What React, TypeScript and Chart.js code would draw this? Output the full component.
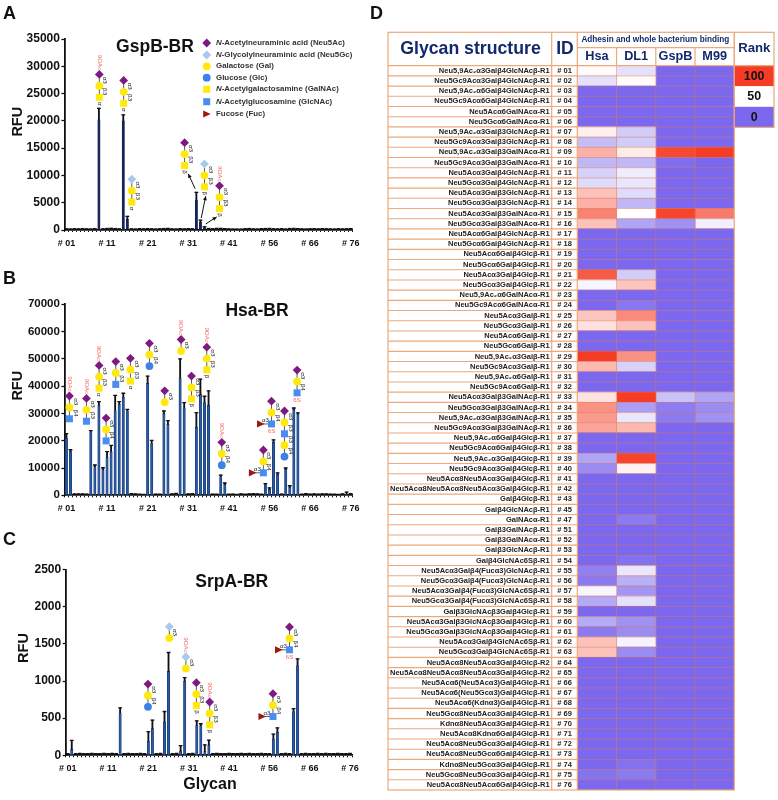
import { useEffect, useRef } from "react";
import { Chart, registerables } from "chart.js";

Chart.register(...registerables);

const FONT = '"Liberation Sans", Arial, sans-serif';

const glycanIds = [
  "# 01", "# 02", "# 03", "# 04", "# 05", "# 06", "# 07", "# 08", "# 09", "# 10",
  "# 11", "# 12", "# 13", "# 14", "# 15", "# 16", "# 17", "# 18", "# 19", "# 20",
  "# 21", "# 22", "# 23", "# 24", "# 25", "# 26", "# 27", "# 28", "# 29", "# 30",
  "# 31", "# 32", "# 33", "# 34", "# 35", "# 36", "# 37", "# 38", "# 39", "# 40",
  "# 41", "# 42", "# 43", "# 45", "# 47", "# 51", "# 52", "# 53", "# 54", "# 55",
  "# 56", "# 57", "# 58", "# 59", "# 60", "# 61", "# 62", "# 63", "# 64", "# 65",
  "# 66", "# 67", "# 68", "# 69", "# 70", "# 71", "# 72", "# 73", "# 74", "# 75",
  "# 76",
];

const glycanNames = [
  "Neu5,9Ac₂α3Galβ4GlcNAcβ-R1", "Neu5Gc9Acα3Galβ4GlcNAcβ-R1", "Neu5,9Ac₂α6Galβ4GlcNAcβ-R1",
  "Neu5Gc9Acα6Galβ4GlcNAcβ-R1", "Neu5Acα6GalNAcα-R1", "Neu5Gcα6GalNAcα-R1",
  "Neu5,9Ac₂α3Galβ3GlcNAcβ-R1", "Neu5Gc9Acα3Galβ3GlcNAcβ-R1", "Neu5,9Ac₂α3Galβ3GalNAcα-R1",
  "Neu5Gc9Acα3Galβ3GalNAcα-R1", "Neu5Acα3Galβ4GlcNAcβ-R1", "Neu5Gcα3Galβ4GlcNAcβ-R1",
  "Neu5Acα3Galβ3GlcNAcβ-R1", "Neu5Gcα3Galβ3GlcNAcβ-R1", "Neu5Acα3Galβ3GalNAcα-R1",
  "Neu5Gcα3Galβ3GalNAcα-R1", "Neu5Acα6Galβ4GlcNAcβ-R1", "Neu5Gcα6Galβ4GlcNAcβ-R1",
  "Neu5Acα6Galβ4Glcβ-R1", "Neu5Gcα6Galβ4Glcβ-R1", "Neu5Acα3Galβ4Glcβ-R1",
  "Neu5Gcα3Galβ4Glcβ-R1", "Neu5,9Ac₂α6GalNAcα-R1", "Neu5Gc9Acα6GalNAcα-R1",
  "Neu5Acα3Galβ-R1", "Neu5Gcα3Galβ-R1", "Neu5Acα6Galβ-R1", "Neu5Gcα6Galβ-R1",
  "Neu5,9Ac₂α3Galβ-R1", "Neu5Gc9Acα3Galβ-R1", "Neu5,9Ac₂α6Galβ-R1", "Neu5Gc9Acα6Galβ-R1",
  "Neu5Acα3Galβ3GalNAcβ-R1", "Neu5Gcα3Galβ3GalNAcβ-R1", "Neu5,9Ac₂α3Galβ3GalNAcβ-R1",
  "Neu5Gc9Acα3Galβ3GalNAcβ-R1", "Neu5,9Ac₂α6Galβ4Glcβ-R1", "Neu5Gc9Acα6Galβ4Glcβ-R1",
  "Neu5,9Ac₂α3Galβ4Glcβ-R1", "Neu5Gc9Acα3Galβ4Glcβ-R1", "Neu5Acα8Neu5Acα3Galβ4Glcβ-R1",
  "Neu5Acα8Neu5Acα8Neu5Acα3Galβ4Glcβ-R1", "Galβ4Glcβ-R1", "Galβ4GlcNAcβ-R1", "GalNAcα-R1",
  "Galβ3GalNAcβ-R1", "Galβ3GalNAcα-R1", "Galβ3GlcNAcβ-R1", "Galβ4GlcNAc6Sβ-R1",
  "Neu5Acα3Galβ4(Fucα3)GlcNAcβ-R1", "Neu5Gcα3Galβ4(Fucα3)GlcNAcβ-R1",
  "Neu5Acα3Galβ4(Fucα3)GlcNAc6Sβ-R1", "Neu5Gcα3Galβ4(Fucα3)GlcNAc6Sβ-R1",
  "Galβ3GlcNAcβ3Galβ4Glcβ-R1", "Neu5Acα3Galβ3GlcNAcβ3Galβ4Glcβ-R1",
  "Neu5Gcα3Galβ3GlcNAcβ3Galβ4Glcβ-R1", "Neu5Acα3Galβ4GlcNAc6Sβ-R1", "Neu5Gcα3Galβ4GlcNAc6Sβ-R1",
  "Neu5Acα8Neu5Acα3Galβ4Glcβ-R2", "Neu5Acα8Neu5Acα8Neu5Acα3Galβ4Glcβ-R2",
  "Neu5Acα6(Neu5Acα3)Galβ4Glcβ-R1", "Neu5Acα6(Neu5Gcα3)Galβ4Glcβ-R1",
  "Neu5Acα6(Kdnα3)Galβ4Glcβ-R1", "Neu5Gcα8Neu5Acα3Galβ4Glcβ-R1", "Kdnα8Neu5Acα3Galβ4Glcβ-R1",
  "Neu5Acα8Kdnα6Galβ4Glcβ-R1", "Neu5Acα8Neu5Gcα3Galβ4Glcβ-R1", "Neu5Acα8Neu5Gcα6Galβ4Glcβ-R1",
  "Kdnα8Neu5Gcα3Galβ4Glcβ-R1", "Neu5Gcα8Neu5Gcα3Galβ4Glcβ-R1", "Neu5Acα8Neu5Acα6Galβ4Glcβ-R1",
];

// bar heights and error lengths, RFU
const gspbMean = [
  100, 90, 110, 100, 120, 100, 90, 110, 20200, 100,
  150, 160, 140, 110, 20000, 2000, 100, 90, 120, 100,
  130, 100, 90, 110, 130, 140, 100, 90, 120, 100,
  130, 110, 5500, 1400, 400, 150, 110, 160, 150, 130,
  100, 90, 80, 70, 120, 140, 100, 90, 130, 140,
  150, 110, 100, 120, 90, 140, 150, 130, 100, 90,
  110, 120, 100, 130, 110, 100, 90, 120, 100, 110,
  130,
];
const gspbErr = [
  120, 100, 130, 110, 140, 110, 100, 120, 2100, 110,
  130, 150, 120, 100, 1100, 500, 110, 90, 120, 100,
  120, 110, 90, 110, 130, 150, 100, 90, 120, 100,
  120, 110, 1400, 400, 200, 130, 120, 140, 150, 120,
  100, 90, 90, 80, 110, 130, 100, 90, 120, 130,
  140, 110, 100, 120, 90, 130, 140, 120, 100, 90,
  110, 120, 100, 120, 110, 100, 90, 110, 100, 110,
  120,
];
const hsaMean = [
  21000, 16000, 200, 250, 200, 180, 23000, 10500, 33000, 9500,
  14000, 16000, 31000, 33500, 36000, 31000, 300, 250, 200, 150,
  41000, 19000, 200, 180, 30000, 26000, 250, 400, 43000, 32000,
  250, 300, 25000, 37000, 34000, 33000, 200, 180, 6800, 4000,
  200, 180, 150, 200, 150, 200, 300, 250, 200, 3800,
  2200, 19500, 7700, 200, 9500, 3000, 31500, 29800, 200, 300,
  200, 250, 180, 200, 250, 200, 180, 150, 200, 400,
  300,
];
const hsaErr = [
  1600, 700, 300, 250, 300, 250, 700, 600, 1300, 600,
  2000, 2300, 5600, 800, 1400, 500, 300, 250, 200, 200,
  2700, 1100, 250, 200, 900, 1400, 300, 300, 7000, 2000,
  300, 300, 5300, 5600, 2300, 5300, 250, 200, 600, 500,
  200, 250, 200, 300, 250, 300, 300, 250, 200, 500,
  500, 800, 500, 250, 500, 500, 500, 400, 200, 300,
  250, 300, 250, 300, 300, 250, 200, 200, 300, 800,
  300,
];
const srpaMean = [
  5, 80, 5, 4, 6, 5, 4, 5, 6, 4,
  5, 4, 6, 570, 5, 4, 6, 5, 4, 5,
  190, 360, 5, 4, 450, 1130, 5, 4, 60, 1000,
  5, 4, 400, 400, 50, 140, 5, 4, 6, 5,
  4, 5, 6, 4, 5, 4, 6, 5, 4, 5,
  6, 220, 310, 5, 4, 6, 590, 1210, 5, 4,
  5, 6, 4, 5, 4, 6, 5, 4, 5, 6,
  4,
];
const srpaErr = [
  18, 120, 18, 20, 16, 18, 20, 18, 16, 20,
  18, 20, 16, 70, 18, 20, 16, 18, 20, 18,
  130, 115, 18, 20, 140, 255, 18, 20, 70, 45,
  18, 20, 65, 25, 90, 65, 18, 20, 16, 18,
  20, 18, 16, 20, 18, 20, 16, 18, 20, 18,
  16, 65, 60, 18, 20, 16, 40, 90, 18, 20,
  18, 16, 20, 18, 20, 16, 18, 20, 18, 16,
  20,
];

// heat map ranks, one list per column
const heatColumns = ["Hsa", "DL1", "GspB", "M99"];
const rankHsa = [
  51, 40, 0, 0, 0, 0, 54, 28, 70, 26,
  35, 38, 66, 70, 82, 66, 0, 0, 0, 0,
  92, 47, 0, 0, 65, 58, 0, 0, 100, 68,
  0, 0, 57, 78, 76, 73, 0, 0, 20, 12,
  0, 0, 0, 0, 0, 0, 0, 0, 0, 8,
  6, 47, 22, 0, 22, 6, 66, 66, 0, 0,
  0, 0, 0, 0, 0, 0, 0, 0, 0, 4,
  0,
];
const rankDl1 = [
  40, 51, 0, 0, 0, 0, 33, 33, 55, 26,
  44, 42, 38, 26, 50, 20, 0, 0, 0, 0,
  33, 65, 0, 5, 80, 66, 0, 0, 78, 35,
  0, 0, 100, 18, 42, 68, 0, 0, 98, 53,
  0, 0, 0, 0, 6, 0, 0, 0, 3, 42,
  24, 15, 40, 0, 14, 12, 46, 12, 0, 0,
  0, 0, 0, 0, 0, 0, 0, 0, 3, 6,
  0,
];
const rankGspb = [
  0, 0, 0, 0, 0, 0, 0, 0, 97, 2,
  0, 0, 0, 0, 98, 14, 0, 0, 0, 0,
  0, 0, 0, 0, 0, 0, 0, 0, 0, 0,
  0, 0, 30, 7, 6, 0, 0, 0, 0, 0,
  0, 0, 0, 0, 0, 0, 0, 0, 0, 0,
  0, 0, 0, 0, 0, 0, 0, 0, 0, 0,
  0, 0, 0, 0, 0, 0, 0, 0, 0, 0,
  0,
];
const rankM99 = [
  0, 0, 0, 0, 0, 0, 0, 0, 100, 0,
  0, 0, 0, 0, 84, 45, 0, 0, 0, 0,
  0, 0, 0, 0, 0, 0, 0, 0, 0, 0,
  0, 0, 20, 12, 14, 0, 0, 0, 0, 0,
  0, 0, 0, 0, 0, 0, 0, 0, 0, 0,
  0, 0, 0, 0, 0, 0, 0, 0, 0, 0,
  0, 0, 0, 0, 0, 0, 0, 0, 0, 0,
  0,
];
const rankLevels = [100, 50, 0];

const residueLegend = [
  ["Neu5Ac", "N", "-Acetylneuraminic acid (Neu5Ac)"],
  ["Neu5Gc", "N", "-Glycolylneuraminic acid (Neu5Gc)"],
  ["Gal", "", "Galactose (Gal)"],
  ["Glc", "", "Glucose (Glc)"],
  ["GalNAc", "N", "-Acetylgalactosamine (GalNAc)"],
  ["GlcNAc", "N", "-Acetylglucosamine (GlcNAc)"],
  ["Fuc", "", "Fucose (Fuc)"],
];

// x = position along the category axis, y = RFU of the topmost residue
const gspbGlycans = [
  { x: 8.1, y: 28500, chain: ["Neu5Ac", "Gal", "GalNAc"], links: ["α3", "β3"], end: "α", note: "9OAc" },
  { x: 14.1, y: 27400, chain: ["Neu5Ac", "Gal", "GalNAc"], links: ["α3", "β3"], end: "α" },
  { x: 16.1, y: 9300, chain: ["Neu5Gc", "Gal", "GalNAc"], links: ["α3", "β3"], end: "α" },
  { x: 29.1, y: 16000, chain: ["Neu5Ac", "Gal", "GalNAc"], links: ["α3", "β3"], end: "β" },
  { x: 34, y: 12100, chain: ["Neu5Gc", "Gal", "GalNAc"], links: ["α3", "β3"], end: "β" },
  { x: 37.7, y: 8100, chain: ["Neu5Ac", "Gal", "GalNAc"], links: ["α3", "β3"], end: "β", note: "9OAc" },
];
const gspbArrows = [
  [31.7, 7560, 30, 10300],
  [33.2, 2200, 34.3, 6200],
  [34.3, 1100, 37, 2400],
];
const hsaGlycans = [
  { x: 0.74, y: 36400, chain: ["Neu5Ac", "Gal", "GlcNAc"], links: ["α3", "β4"], note: "9OAc" },
  { x: 4.93, y: 35500, chain: ["Neu5Ac", "Gal", "GlcNAc"], links: ["α3", "β3"], note: "9OAc" },
  { x: 8.05, y: 47600, chain: ["Neu5Ac", "Gal", "GalNAc"], links: ["α3", "β3"], end: "α", note: "9OAc" },
  { x: 9.77, y: 28300, chain: ["Neu5Ac", "Gal", "GlcNAc"], links: ["α3", "β4"] },
  { x: 12.15, y: 49000, chain: ["Neu5Ac", "Gal", "GlcNAc"], links: ["α3", "β3"] },
  { x: 15.76, y: 50200, chain: ["Neu5Ac", "Gal", "GalNAc"], links: ["α3", "β3"], end: "α" },
  { x: 20.44, y: 55700, chain: ["Neu5Ac", "Gal", "Glc"], links: ["α3", "β4"] },
  { x: 24.2, y: 38300, chain: ["Neu5Ac", "Gal"], links: ["α3"] },
  { x: 28.24, y: 57100, chain: ["Neu5Ac", "Gal"], links: ["α3"], note: "9OAc" },
  { x: 30.8, y: 43700, chain: ["Neu5Ac", "Gal", "GalNAc"], links: ["α3", "β3"], end: "β" },
  { x: 34.56, y: 54300, chain: ["Neu5Ac", "Gal", "GalNAc"], links: ["α3", "β3"], end: "β", note: "9OAc" },
  { x: 38.26, y: 19400, chain: ["Neu5Ac", "Gal", "Glc"], links: ["α3", "β4"], note: "9OAc" },
  { x: 48.5, y: 16600, chain: ["Neu5Ac", "Gal", "GlcNAc"], links: ["α3", "β4"], fuc: true },
  { x: 50.5, y: 34500, chain: ["Neu5Ac", "Gal", "GlcNAc"], links: ["α3", "β4"], fuc: true, sulfate: true },
  { x: 53.7, y: 30900, chain: ["Neu5Ac", "Gal", "GlcNAc", "Gal", "Glc"], links: ["α3", "β3", "β3", "β4"] },
  { x: 56.8, y: 45900, chain: ["Neu5Ac", "Gal", "GlcNAc"], links: ["α3", "β4"], sulfate: true },
];
const srpaGlycans = [
  { x: 19.9, y: 960, chain: ["Neu5Ac", "Gal", "Glc"], links: ["α3", "β4"] },
  { x: 25.2, y: 1732, chain: ["Neu5Gc", "Gal"], links: ["α3"] },
  { x: 29.3, y: 1324, chain: ["Neu5Gc", "Gal"], links: ["α3"], note: "9OAc" },
  { x: 31.9, y: 978, chain: ["Neu5Ac", "Gal", "GalNAc"], links: ["α3", "β3"], end: "β" },
  { x: 35.2, y: 718, chain: ["Neu5Ac", "Gal", "GalNAc"], links: ["α3", "β3"], end: "β", note: "9OAc" },
  { x: 50.9, y: 830, chain: ["Neu5Ac", "Gal", "GlcNAc"], links: ["α3", "β4"], fuc: true },
  { x: 55, y: 1728, chain: ["Neu5Ac", "Gal", "GlcNAc"], links: ["α3", "β4"], fuc: true, sulfate: true },
];

const RESIDUE_COLORS: Record<string, string> = {
  Neu5Ac: "#7c1a80",
  Neu5Gc: "#a9c8ea",
  Gal: "#ffe90a",
  Glc: "#3f7fe8",
  GalNAc: "#ffe90a",
  GlcNAc: "#4a8cf0",
  Fuc: "#9a1a12",
};

function drawResidue(ctx: CanvasRenderingContext2D, kind: string, x: number, y: number) {
  ctx.fillStyle = RESIDUE_COLORS[kind];
  ctx.beginPath();
  if (kind === "Neu5Ac" || kind === "Neu5Gc") {
    ctx.moveTo(x, y - 4.4);
    ctx.lineTo(x + 4.4, y);
    ctx.lineTo(x, y + 4.4);
    ctx.lineTo(x - 4.4, y);
    ctx.closePath();
  } else if (kind === "Gal" || kind === "Glc") {
    ctx.arc(x, y, 3.9, 0, Math.PI * 2);
  } else if (kind === "GalNAc" || kind === "GlcNAc") {
    ctx.rect(x - 3.5, y - 3.5, 7, 7);
  } else {
    ctx.moveTo(x + 4, y);
    ctx.lineTo(x - 3.5, y - 3.6);
    ctx.lineTo(x - 3.5, y + 3.6);
    ctx.closePath();
  }
  ctx.fill();
}

function rotatedText(ctx: CanvasRenderingContext2D, text: string, x: number, y: number, angle: number) {
  ctx.save();
  ctx.translate(x, y);
  ctx.rotate(angle);
  ctx.textAlign = "center";
  ctx.textBaseline = "middle";
  ctx.fillText(text, 0, 0);
  ctx.restore();
}

const STEP = 11.4;

function drawGlycan(ctx: CanvasRenderingContext2D, g: any, px: number, py: number) {
  const bottom = py + STEP * (g.chain.length - 1);
  ctx.strokeStyle = "#333";
  ctx.lineWidth = 0.8;
  ctx.beginPath();
  ctx.moveTo(px, py);
  ctx.lineTo(px, bottom);
  ctx.stroke();
  if (g.fuc) {
    ctx.beginPath();
    ctx.moveTo(px - 10, bottom);
    ctx.lineTo(px, bottom);
    ctx.stroke();
    drawResidue(ctx, "Fuc", px - 11, bottom);
    ctx.fillStyle = "#222";
    ctx.font = `6.2px ${FONT}`;
    rotatedText(ctx, "α3", px - 6, bottom - 3.2, 0);
  }
  g.chain.forEach((kind: string, i: number) => drawResidue(ctx, kind, px, py + i * STEP));
  ctx.fillStyle = "#222";
  ctx.font = `6.2px ${FONT}`;
  g.links.forEach((link: string, i: number) => {
    rotatedText(ctx, link, px + 5.8, py + (i + 0.5) * STEP, Math.PI / 2);
  });
  if (g.end) rotatedText(ctx, g.end, px, bottom + 6.5, Math.PI / 2);
  ctx.fillStyle = "#f26a62";
  ctx.font = `6.2px ${FONT}`;
  if (g.note) rotatedText(ctx, g.note, px, py - 12, Math.PI / 2);
  if (g.sulfate) rotatedText(ctx, "6S", px, bottom + 7, 0);
}

const glycanPlugin = {
  id: "glycans",
  afterDatasetsDraw(chart: any, _args: any, opts: any) {
    const { ctx, scales } = chart;
    ctx.save();
    (opts.items || []).forEach((g: any) => {
      drawGlycan(ctx, g, scales.x.getPixelForValue(g.x), scales.y.getPixelForValue(g.y));
    });
    (opts.arrows || []).forEach((a: number[]) => {
      const x1 = scales.x.getPixelForValue(a[0]);
      const y1 = scales.y.getPixelForValue(a[1]);
      const x2 = scales.x.getPixelForValue(a[2]);
      const y2 = scales.y.getPixelForValue(a[3]);
      const ang = Math.atan2(y2 - y1, x2 - x1);
      ctx.strokeStyle = "#111";
      ctx.fillStyle = "#111";
      ctx.lineWidth = 1;
      ctx.beginPath();
      ctx.moveTo(x1, y1);
      ctx.lineTo(x2, y2);
      ctx.stroke();
      ctx.beginPath();
      ctx.moveTo(x2, y2);
      ctx.lineTo(x2 - 4.5 * Math.cos(ang - 0.45), y2 - 4.5 * Math.sin(ang - 0.45));
      ctx.lineTo(x2 - 4.5 * Math.cos(ang + 0.45), y2 - 4.5 * Math.sin(ang + 0.45));
      ctx.closePath();
      ctx.fill();
    });
    ctx.restore();
  },
};

// chart title, RFU and Glycan axis words, and the residue key of panel A
const labelsPlugin = {
  id: "panelLabels",
  afterDraw(chart: any, _args: any, opts: any) {
    const { ctx } = chart;
    ctx.save();
    ctx.fillStyle = "#111";
    ctx.textAlign = "center";
    ctx.textBaseline = "middle";
    ctx.font = `bold 17.5px ${FONT}`;
    ctx.fillText(opts.title[0], opts.title[1], opts.title[2]);
    ctx.font = `bold 14.5px ${FONT}`;
    rotatedText(ctx, "RFU", opts.rfu[0], opts.rfu[1], -Math.PI / 2);
    if (opts.xWord) {
      ctx.font = `bold 16px ${FONT}`;
      ctx.fillText(opts.xWord[0], opts.xWord[1], opts.xWord[2]);
    }
    if (opts.legend) {
      residueLegend.forEach(([kind, prefix, text], i) => {
        const y = [43, 55, 66.3, 77.7, 89.3, 101.7, 114][i];
        drawResidue(ctx, kind, 206.7, y);
        ctx.fillStyle = "#333";
        ctx.textAlign = "left";
        ctx.font = `italic bold 7.9px ${FONT}`;
        ctx.fillText(prefix, 216, y);
        const w = ctx.measureText(prefix).width;
        ctx.font = `bold 7.9px ${FONT}`;
        ctx.fillText(text, 216 + w, y);
      });
    }
    ctx.restore();
  },
};

function makeBarChart(canvas: HTMLCanvasElement, p: any) {
  const tips = p.mean.map((m: number, i: number) => m + p.err[i]);
  return new Chart(canvas, {
    type: "bar",
    data: {
      labels: glycanIds,
      datasets: [
        {
          data: p.mean,
          backgroundColor: p.color,
          borderColor: p.edge,
          borderWidth: 0.7,
          barThickness: 2.4,
          grouped: false,
          order: 2,
        },
        {
          data: p.mean.map((m: number, i: number) => [m, tips[i]]),
          backgroundColor: "#111",
          barThickness: 1.2,
          grouped: false,
          order: 1,
        },
        {
          type: "line",
          data: tips,
          showLine: false,
          pointStyle: "line",
          pointRadius: 1.9,
          pointBorderColor: "#111",
          pointBorderWidth: 1.3,
          order: 0,
        },
      ] as any,
    },
    options: {
      responsive: false,
      animation: false,
      events: [],
      layout: { padding: { top: p.top, right: p.right } },
      plugins: {
        legend: { display: false },
        tooltip: { enabled: false },
        glycans: { items: p.glycans, arrows: p.arrows },
        panelLabels: { title: p.title, rfu: p.rfu, xWord: p.xWord, legend: p.legend },
      } as any,
      scales: {
        x: {
          offset: true,
          grid: { drawOnChartArea: false, tickLength: 2, tickColor: "#111", tickWidth: 1 },
          border: { color: "#111", width: 1.8 },
          ticks: {
            autoSkip: false,
            maxRotation: 0,
            padding: 6,
            color: "#111",
            font: { family: FONT, size: 9, weight: "bold" },
            callback: (_v: any, i: number) => (i % 10 === 0 ? glycanIds[i] : ""),
          },
          afterFit: (s: any) => {
            s.height = p.xHeight;
          },
        },
        y: {
          min: 0,
          max: p.max,
          grid: { drawOnChartArea: false, tickLength: 3, tickColor: "#111", tickWidth: 1.3 },
          border: { color: "#111", width: 1.8 },
          ticks: {
            stepSize: p.step,
            padding: 1.5,
            color: "#111",
            font: { family: FONT, size: p.tickSize, weight: "bold" },
            callback: (v: any) => String(v),
          },
          afterFit: (s: any) => {
            s.width = p.left;
          },
        },
      } as any,
    },
    plugins: [glycanPlugin, labelsPlugin],
  });
}

function rankColor(rank: number) {
  const low = [123, 104, 238];
  const high = [246, 60, 36];
  const a = rank <= 50 ? low : high;
  const t = rank <= 50 ? (50 - rank) / 50 : (rank - 50) / 50;
  const mix = (i: number) => Math.round(255 + (a[i] - 255) * t);
  return `rgb(${mix(0)},${mix(1)},${mix(2)})`;
}

const LINE = "#eda87c";

// table header, rules and the rank key around the heat cells
const tablePlugin = {
  id: "table",
  afterDraw(chart: any) {
    const { ctx, chartArea, scales } = chart;
    const { top, bottom, left, right } = chartArea;
    const tableLeft = 8;
    const idLeft = 171.7;
    const rankRight = 394;
    const headTop = 7.3;
    const subRow = 22.7;
    const rowH = (bottom - top) / glycanNames.length;
    ctx.save();

    ctx.strokeStyle = LINE;
    ctx.lineWidth = 1.1;
    const line = (x1: number, y1: number, x2: number, y2: number) => {
      ctx.beginPath();
      ctx.moveTo(x1, y1);
      ctx.lineTo(x2, y2);
      ctx.stroke();
    };
    for (let i = 1; i < glycanNames.length; i++) {
      line(tableLeft, top + i * rowH, left, top + i * rowH);
    }
    ctx.strokeStyle = "rgba(214,120,92,0.55)";
    ctx.lineWidth = 0.9;
    for (let i = 1; i < glycanNames.length; i++) {
      line(left, top + i * rowH, right, top + i * rowH);
    }
    for (let c = 1; c < heatColumns.length; c++) {
      const x = scales.x.getPixelForValue(c);
      line(x, top, x, bottom);
    }
    ctx.strokeStyle = LINE;
    ctx.lineWidth = 1.2;
    ctx.strokeRect(tableLeft, headTop, right - tableLeft, bottom - headTop);
    line(tableLeft, top, right, top);
    line(idLeft, headTop, idLeft, bottom);
    line(left, headTop, left, bottom);
    line(left, subRow, right, subRow);
    for (let c = 1; c < heatColumns.length; c++) {
      const x = scales.x.getPixelForValue(c);
      line(x, subRow, x, top);
    }

    ctx.textAlign = "center";
    ctx.textBaseline = "middle";
    ctx.fillStyle = "#12296b";
    ctx.font = `bold 17.7px ${FONT}`;
    ctx.fillText("Glycan structure", 90.5, 24);
    ctx.font = `bold 17.5px ${FONT}`;
    ctx.fillText("ID", 185, 24);
    ctx.font = `bold 8.2px ${FONT}`;
    ctx.fillText("Adhesin and whole bacterium binding", 275.3, 14.7);
    ctx.font = `bold 12.7px ${FONT}`;
    heatColumns.forEach((name, c) => {
      ctx.fillText(name, scales.x.getPixelForValue(c + 0.5), 31.7);
    });
    ctx.font = `bold 13.2px ${FONT}`;
    ctx.fillText("Rank", 374.3, 23.7);

    // rank key
    ctx.strokeStyle = LINE;
    ctx.lineWidth = 1.2;
    ctx.strokeRect(right, headTop, rankRight - right, top - headTop);
    rankLevels.forEach((rank, i) => {
      const y = top + i * 20.55;
      ctx.fillStyle = rankColor(rank);
      ctx.fillRect(right, y, rankRight - right, 20.55);
      ctx.fillStyle = "#111";
      ctx.font = `bold 12.4px ${FONT}`;
      ctx.fillText(String(rank), (right + rankRight) / 2, y + 10.5);
    });
    ctx.strokeRect(right, top, rankRight - right, 20.55 * rankLevels.length);
    ctx.restore();
  },
};

function makeHeatChart(canvas: HTMLCanvasElement) {
  const columns = [rankHsa, rankDl1, rankGspb, rankM99];
  return new Chart(canvas, {
    type: "bar",
    data: {
      labels: glycanNames,
      datasets: columns.map((ranks, c) => ({
        data: ranks.map(() => [c, c + 1]),
        backgroundColor: ranks.map(rankColor),
        barPercentage: 1,
        categoryPercentage: 1,
        grouped: false,
      })) as any,
    },
    options: {
      indexAxis: "y",
      responsive: false,
      animation: false,
      events: [],
      layout: { padding: { top: 40.7, right: 43.7, bottom: 5 } },
      plugins: { legend: { display: false }, tooltip: { enabled: false } },
      scales: {
        x: { display: false, min: 0, max: heatColumns.length },
        y: {
          weight: 2,
          grid: { display: false, drawTicks: false },
          border: { display: false },
          ticks: {
            autoSkip: false,
            padding: 2,
            color: "#222",
            font: { family: FONT, size: 7.5, weight: "bold" },
          },
          afterFit: (s: any) => {
            s.width = 171.7;
          },
        },
        yId: {
          type: "category",
          labels: glycanIds,
          position: "left",
          offset: true,
          weight: 1,
          grid: { display: false, drawTicks: false },
          border: { display: false },
          ticks: {
            autoSkip: false,
            padding: 5.5,
            color: "#222",
            font: { family: FONT, size: 7.5, weight: "bold" },
          },
          afterFit: (s: any) => {
            s.width = 25.6;
          },
        },
      } as any,
    },
    plugins: [tablePlugin],
  });
}

const panels = [
  {
    box: { left: 0, top: 0, width: 380, height: 262 },
    mean: gspbMean,
    err: gspbErr,
    color: "#16245a",
    edge: "#16245a",
    max: 35000,
    step: 5000,
    tickSize: 12,
    top: 39,
    right: 27.3,
    left: 64.4,
    xHeight: 32,
    glycans: gspbGlycans,
    arrows: gspbArrows,
    title: ["GspB-BR", 155, 46.7],
    rfu: [18, 121.7],
    legend: true,
  },
  {
    box: { left: 0, top: 262, width: 380, height: 258 },
    mean: hsaMean,
    err: hsaErr,
    color: "#2a5a9e",
    edge: "#173a7a",
    max: 70000,
    step: 10000,
    tickSize: 11.5,
    top: 42.3,
    right: 27.3,
    left: 64.4,
    xHeight: 24.7,
    glycans: hsaGlycans,
    title: ["Hsa-BR", 257, 48.7],
    rfu: [18, 123.7],
  },
  {
    box: { left: 0, top: 520, width: 380, height: 280 },
    mean: srpaMean,
    err: srpaErr,
    color: "#2a5a9e",
    edge: "#173a7a",
    max: 2500,
    step: 500,
    tickSize: 12,
    top: 49.7,
    right: 28,
    left: 65.7,
    xHeight: 44.7,
    glycans: srpaGlycans,
    title: ["SrpA-BR", 231.7, 61.7],
    rfu: [24, 128],
    xWord: ["Glycan", 210, 265],
  },
];

const panelLetters = [
  ["A", 3, 3],
  ["B", 3, 268],
  ["C", 3, 529],
  ["D", 370, 3],
];

const SOFTEN = "blur(0.3px)";

export default function App() {
  const barRefs = useRef<(HTMLCanvasElement | null)[]>([]);
  const heatRef = useRef<HTMLCanvasElement>(null);

  useEffect(() => {
    const charts = panels.map((p, i) => makeBarChart(barRefs.current[i]!, p));
    charts.push(makeHeatChart(heatRef.current!));
    return () => charts.forEach((c) => c.destroy());
  }, []);

  return (
    <div style={{ position: "absolute", left: 0, top: 0, width: 778, height: 800, background: "#fff", overflow: "hidden" }}>
      {panels.map((p, i) => (
        <canvas
          key={i}
          ref={(el) => {
            barRefs.current[i] = el;
          }}
          width={p.box.width}
          height={p.box.height}
          style={{ position: "absolute", left: p.box.left, top: p.box.top, filter: SOFTEN }}
        />
      ))}
      <canvas ref={heatRef} width={398} height={775} style={{ position: "absolute", left: 380, top: 25, filter: SOFTEN }} />
      {panelLetters.map(([text, left, top]) => (
        <div
          key={text}
          style={{ position: "absolute", left, top, font: `bold 18px ${FONT}`, color: "#111", lineHeight: "20px" }}
        >
          {text}
        </div>
      ))}
    </div>
  );
}
